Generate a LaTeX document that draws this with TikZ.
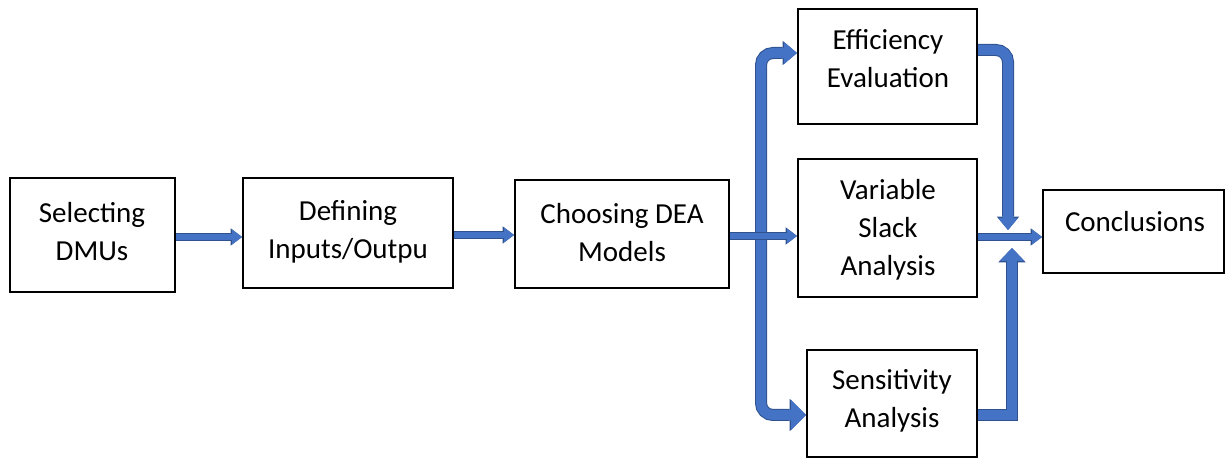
\documentclass[tikz,border=0pt]{standalone}
\usepackage{fontspec}
\setmainfont{Carlito}
\usetikzlibrary{arrows.meta}
\definecolor{abl}{HTML}{4472C4}
\definecolor{abd}{HTML}{2F528F}
\begin{document}
\begin{tikzpicture}[x=0.5pt,y=-0.5pt,
  box/.style={draw=black, line width=1pt, inner sep=0pt},
  txt/.style={align=center, font=\fontsize{14.5}{19}\selectfont, inner sep=0pt},
  thinarr/.style={draw=abl, line width=3.2pt, -{Triangle[length=5pt,width=7.5pt,line width=0pt]},
    preaction={draw=abd, line width=4.2pt, -{Triangle[length=5.7pt,width=8.7pt,line width=0pt]}}},
  thickarr/.style 2 args={draw=abl, line width=5pt, -{Triangle[length=#1,width=#2,line width=0pt]},
    preaction={draw=abd, line width=6pt, -{Triangle[length=#1+0.7pt,width=#2+1.2pt,line width=0pt]}}},
]
\useasboundingbox (0,0) rectangle (1228,459);
% boxes
\node[box, minimum width=82.5pt, minimum height=57pt] (sel) at (92.5,235) {};
\node[box, minimum width=105pt, minimum height=55pt] (def) at (348,233) {};
\node[box, minimum width=107pt, minimum height=54pt] (cho) at (622,234) {};
\node[box, minimum width=89.5pt, minimum height=57.5pt] (eff) at (887.5,66.5) {};
\node[box, minimum width=89.5pt, minimum height=69pt] (var) at (887.5,228) {};
\node[box, minimum width=85pt, minimum height=53.5pt] (sen) at (892,403.5) {};
\node[box, minimum width=90.5pt, minimum height=41.5pt] (con) at (1133.5,231.5) {};
% texts
\node[txt] (selt) at (92,232) {Selecting\\DMUs};
\node[txt] (deft) at (348,232) {Defining\\Inputs/Outpu};
\node[txt] (chot) at (622,233) {Choosing DEA\\Models};
\node[txt] (efft) at (888,59) {Efficiency\\Evaluation};
\node[txt] (vart) at (888,230) {Variable\\Slack\\Analysis};
\node[txt] (sent) at (892,401) {Sensitivity\\Analysis};
\node[txt] (cont) at (1135,222) {Conclusions};
% connectors
\coordinate (split) at (761,236);
\coordinate (tipA) at (1008,230);
\coordinate (tipB) at (1012,248);
\draw[thinarr] (sel.east |- 0,237) -- (def.west |- 0,237);
\draw[thinarr] (def.east |- 0,235) -- (cho.west |- 0,235);
\draw[thickarr={6.5pt}{11pt}, rounded corners=6pt] (split) |- (eff.west |- 0,53);
\draw[thickarr={7.5pt}{15pt}, rounded corners=6pt] (split) |- (sen.west |- 0,415);
\draw[thinarr] (cho.east |- 0,236) -- (var.west |- 0,236);
\draw[thickarr={6pt}{10pt}, rounded corners=6pt] (eff.east |- 0,50) -| (tipA);
\draw[thickarr={6.5pt}{12.5pt}] (sen.east |- 0,415) -| (tipB);
\draw[thinarr] (var.east |- 0,237) -- (con.west |- 0,237);
\end{tikzpicture}
\end{document}
